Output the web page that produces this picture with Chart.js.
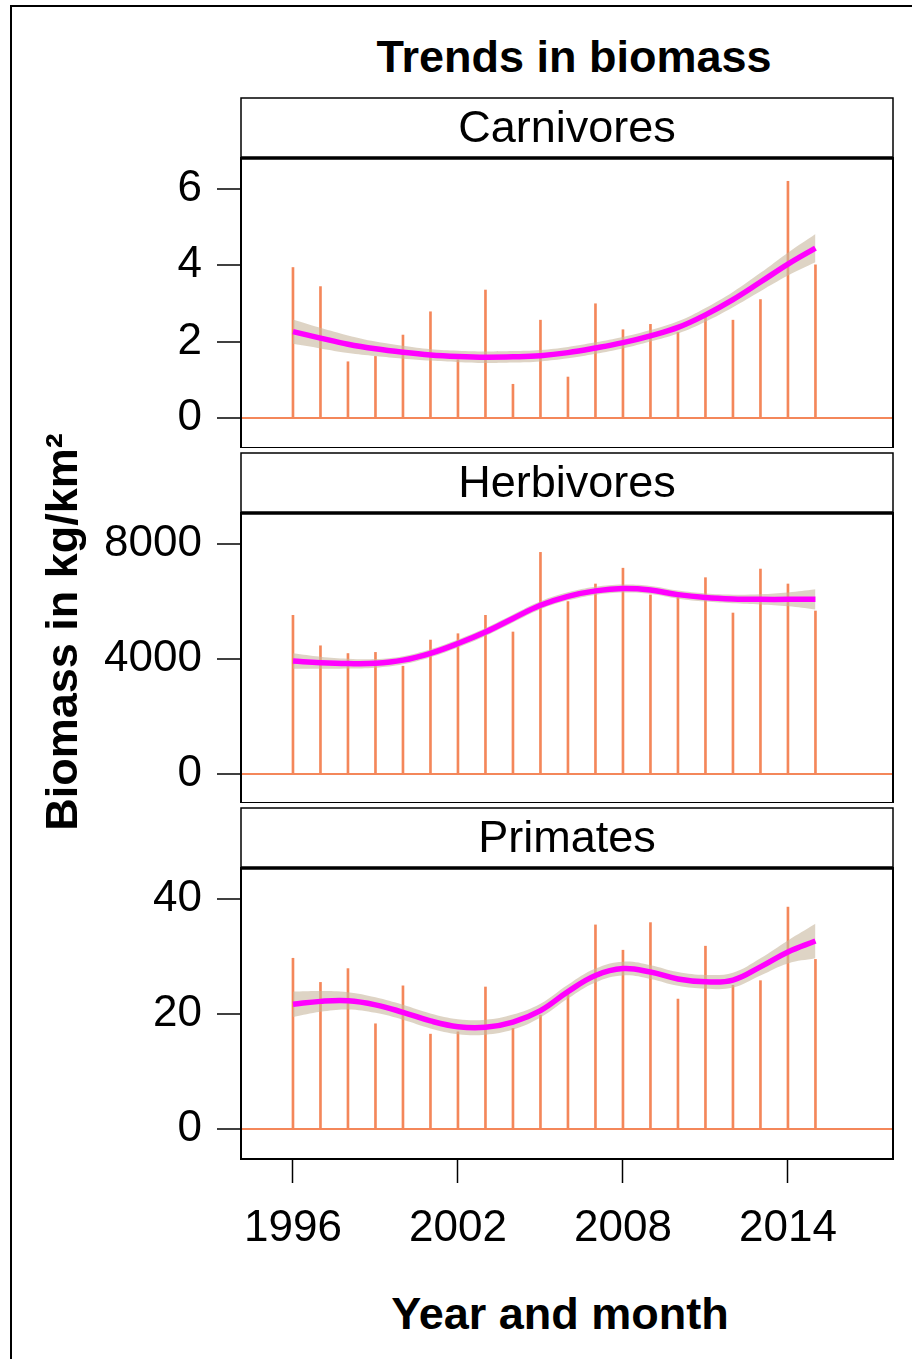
<!DOCTYPE html>
<html>
<head>
<meta charset="utf-8">
<script src="https://cdn.jsdelivr.net/npm/chart.js@4.4.1/dist/chart.umd.min.js"></script>
<style>
  html, body { margin: 0; padding: 0; background: #fff; }
  body { width: 912px; height: 1359px; position: relative; overflow: hidden;
         font-family: "Liberation Sans", Arial, sans-serif; color: #000; }
  .frame { position: absolute; left: 10px; top: 5px; width: 1000px; height: 1500px; border: 2px solid #000; }
  canvas { position: absolute; left: 0; }
  .lbl { position: absolute; width: 600px; height: 50px; text-align: center;
         font-weight: bold; font-size: 45px; line-height: 50px; white-space: nowrap; }
  #main-title { left: 274px; top: 32px; }
  #x-title { left: 260px; top: 1289px; }
  #y-title { left: -238px; top: 607px; transform: rotate(-90deg); transform-origin: 50% 50%; }
</style>
</head>
<body>
<div class="frame"></div>
<div class="lbl" id="main-title">Trends in biomass</div>
<canvas id="carn" width="912" height="351" style="top:97px"></canvas>
<canvas id="herb" width="912" height="351" style="top:452px"></canvas>
<canvas id="prim" width="912" height="452" style="top:807px"></canvas>
<div class="lbl" id="y-title">Biomass in kg/km²</div>
<div class="lbl" id="x-title">Year and month</div>
<script>
// survey years (one spike per year)
const years = [1996, 1997, 1998, 1999, 2000, 2001, 2002, 2003, 2004, 2005,
               2006, 2007, 2008, 2009, 2010, 2011, 2012, 2013, 2014, 2015];
const xTicks = [1996, 2002, 2008, 2014];

// Carnivores
const carnValues = [3.94, 3.44, 1.47, 1.61, 2.17, 2.78, 1.52, 3.35, 0.88, 2.56,
                    1.07, 2.99, 2.31, 2.45, 2.24, 2.67, 2.56, 3.10, 6.20, 4.01];
const carnFit   = [2.26, 2.09, 1.93, 1.81, 1.72, 1.65, 1.61, 1.59, 1.60, 1.63,
                   1.71, 1.83, 1.97, 2.15, 2.37, 2.70, 3.10, 3.56, 4.03, 4.45];
const carnUpper = [2.58, 2.36, 2.16, 2.00, 1.89, 1.80, 1.76, 1.74, 1.75, 1.78,
                   1.86, 1.98, 2.12, 2.30, 2.53, 2.88, 3.30, 3.80, 4.33, 4.82];
const carnLower = [1.94, 1.82, 1.70, 1.62, 1.55, 1.50, 1.46, 1.44, 1.45, 1.48,
                   1.56, 1.68, 1.82, 2.00, 2.21, 2.52, 2.90, 3.32, 3.73, 4.08];
const carnTicks = [0, 2, 4, 6];

// Herbivores
const herbValues = [5520, 4460, 4190, 4230, 3750, 4660, 4880, 5520, 4940, 7710,
                    6000, 6610, 7160, 6230, 6150, 6830, 5600, 7130, 6610, 5670];
const herbFit   = [3930, 3870, 3840, 3850, 3960, 4200, 4540, 4940, 5410, 5870,
                   6180, 6370, 6450, 6400, 6240, 6140, 6090, 6075, 6075, 6075];
const herbUpper = [4200, 4080, 4010, 4000, 4100, 4340, 4680, 5080, 5550, 6010,
                   6320, 6510, 6590, 6540, 6380, 6280, 6240, 6255, 6315, 6425];
const herbLower = [3660, 3660, 3670, 3700, 3820, 4060, 4400, 4800, 5270, 5730,
                   6040, 6230, 6310, 6260, 6100, 6000, 5940, 5895, 5835, 5725];
const herbTicks = [0, 4000, 8000];

// Primates
const primValues = [29.7, 25.5, 27.9, 18.3, 24.9, 16.5, 16.9, 24.7, 17.5, 19.8,
                    23.6, 35.5, 31.1, 35.9, 22.6, 31.8, 25.0, 25.8, 38.6, 29.5];
const primFit   = [21.7, 22.2, 22.3, 21.6, 20.3, 18.8, 17.8, 17.7, 18.6, 20.6,
                   23.9, 26.7, 27.9, 27.3, 26.1, 25.6, 25.9, 28.2, 30.8, 32.7];
const primUpper = [23.9, 24.0, 23.8, 22.9, 21.6, 20.1, 19.1, 19.0, 19.9, 21.8,
                   25.1, 27.9, 29.1, 28.5, 27.3, 26.8, 27.2, 29.7, 32.8, 35.7];
const primLower = [19.5, 20.4, 20.8, 20.2, 19.0, 17.5, 16.5, 16.4, 17.3, 19.4,
                   22.7, 25.5, 26.7, 26.1, 24.9, 24.4, 24.6, 26.7, 28.8, 29.7];
const primTicks = [0, 20, 40];

const FONT = '"Liberation Sans", Arial, sans-serif';
const SPIKE = '#F4875A';
const SMOOTH = '#FF00FF';
const BAND = 'rgba(200, 184, 158, 0.6)';
const X_MIN = 1994.11, X_MAX = 2017.82;

Chart.defaults.font.family = FONT;
Chart.defaults.color = '#000';

const pts = (ys) => years.map((x, i) => ({ x: x, y: ys[i] }));

// lattice-style frame: panel box, strip box and the heavy rule under the strip
const panelFrame = {
  id: 'panelFrame',
  afterDraw(chart) {
    const { ctx, chartArea: a } = chart;
    const w = a.right - a.left, h = a.bottom - a.top;
    ctx.save();
    ctx.strokeStyle = '#000';
    ctx.lineWidth = 1.5;
    ctx.strokeRect(a.left, a.top - 60, w, 60);
    ctx.lineWidth = 2;
    ctx.strokeRect(a.left, a.top, w, h);
    ctx.lineWidth = 3.5;
    ctx.beginPath();
    ctx.moveTo(a.left, a.top);
    ctx.lineTo(a.right, a.top);
    ctx.stroke();
    ctx.restore();
  }
};

function panel(id, name, values, fit, upper, lower, yMin, yMax, yTicks, showX) {
  new Chart(document.getElementById(id), {
    type: 'bar',
    data: {
      datasets: [
        { type: 'line', data: pts(fit), borderColor: SMOOTH, borderWidth: 5.5,
          pointRadius: 0, tension: 0.4, fill: false, order: 0 },
        { type: 'line', data: pts(upper), borderWidth: 0, borderColor: 'rgba(0,0,0,0)',
          pointRadius: 0, tension: 0.4, fill: false, order: 2 },
        { type: 'line', data: pts(lower), borderWidth: 0, borderColor: 'rgba(0,0,0,0)',
          backgroundColor: BAND, pointRadius: 0, tension: 0.4, fill: '-1', order: 1 },
        { data: pts(values), backgroundColor: SPIKE, borderWidth: 0,
          barThickness: 2, grouped: false, order: 3 }
      ]
    },
    options: {
      responsive: false,
      animation: false,
      devicePixelRatio: 1,
      layout: { padding: { left: 0, right: 19, top: 0, bottom: 0 } },
      plugins: {
        legend: { display: false },
        tooltip: { enabled: false },
        title: {
          display: true, text: name, fullSize: false, color: '#000',
          font: { family: FONT, size: 45, weight: 'normal' },
          padding: { top: 6, bottom: 1 }
        }
      },
      scales: {
        x: {
          type: 'linear', min: X_MIN, max: X_MAX, offset: false,
          display: showX,
          afterBuildTicks: (s) => { s.ticks = xTicks.map(v => ({ value: v })); },
          afterFit: (s) => {
            s.paddingLeft = 0; s.paddingRight = 0;
            s.height = showX ? 100 : 0;
          },
          grid: { offset: false, drawOnChartArea: false, drawTicks: true, tickLength: 24,
                  tickColor: '#000', tickWidth: 1.5 },
          border: { display: false },
          ticks: { font: { size: 44 }, padding: 19, maxRotation: 0, autoSkip: false,
                   callback: (v) => String(v) }
        },
        y: {
          min: yMin, max: yMax,
          afterBuildTicks: (s) => { s.ticks = yTicks.map(v => ({ value: v })); },
          afterFit: (s) => { s.width = 241; s.paddingTop = 0; s.paddingBottom = 0; },
          grid: {
            drawOnChartArea: true, drawTicks: true, tickLength: 24,
            tickColor: '#000', tickWidth: 1.5, lineWidth: 2,
            color: (c) => (c.tick && c.tick.value === 0 ? SPIKE : 'rgba(0,0,0,0)')
          },
          border: { display: false },
          ticks: { font: { size: 44 }, padding: 15, callback: (v) => String(v) }
        }
      }
    },
    plugins: [panelFrame]
  });
}

panel('carn', 'Carnivores', carnValues, carnFit, carnUpper, carnLower, -0.79, 6.81, carnTicks, false);
panel('herb', 'Herbivores', herbValues, herbFit, herbUpper, herbLower, -1010, 9080, herbTicks, false);
panel('prim', 'Primates', primValues, primFit, primUpper, primLower, -5.22, 45.4, primTicks, true);
</script>
</body>
</html>
